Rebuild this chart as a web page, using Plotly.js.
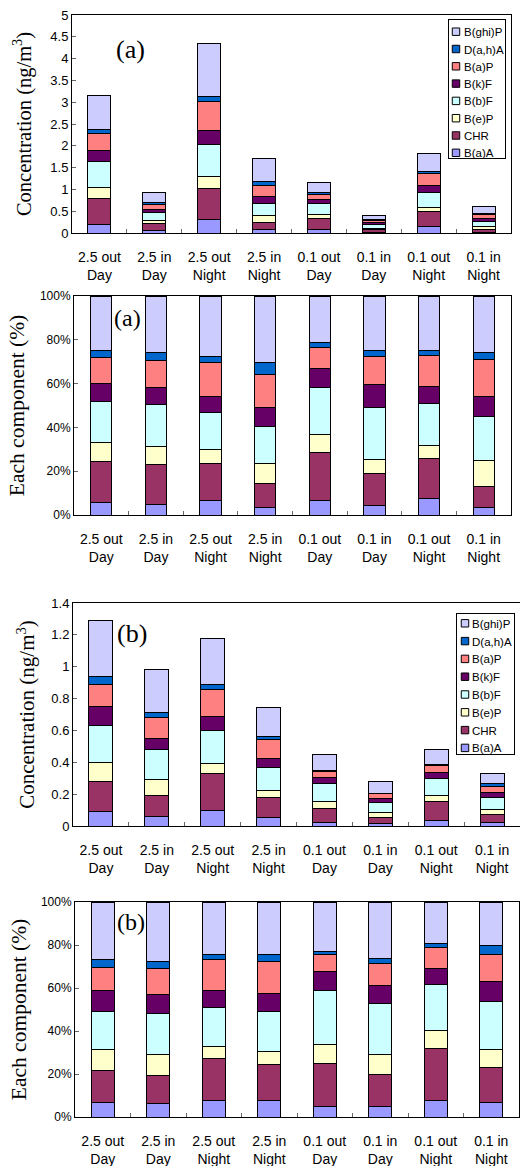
<!DOCTYPE html>
<html>
<head>
<meta charset="utf-8">
<script src="https://cdn.plot.ly/plotly-3.0.1.min.js"></script>
<style>html,body{margin:0;padding:0;background:#fff;}#chart{width:520px;height:1166px;}</style>
</head>
<body>
<div id="chart"></div>
<script>
// Categories (x tick labels)
const categories = ['2.5 out<br>Day','2.5 in<br>Day','2.5 out<br>Night','2.5 in<br>Night','0.1 out<br>Day','0.1 in<br>Day','0.1 out<br>Night','0.1 in<br>Night'];
const compounds = ['B(a)A','CHR','B(e)P','B(b)F','B(k)F','B(a)P','D(a,h)A','B(ghi)P'];
const colors = ['#9999FF','#993366','#FFFFCC','#CCFFFF','#660066','#FF8080','#0066CC','#CCCCFF'];

// (a) concentrations, ng/m3
const BaA_a   = [0.19, 0.05, 0.30, 0.07, 0.07, 0.018, 0.14, 0.02];
const CHR_a   = [0.59, 0.16, 0.73, 0.18, 0.26, 0.058, 0.35, 0.06];
const BeP_a   = [0.27, 0.08, 0.27, 0.15, 0.10, 0.025, 0.10, 0.07];
const BbF_a   = [0.59, 0.17, 0.74, 0.28, 0.24, 0.095, 0.35, 0.12];
const BkF_a   = [0.26, 0.08, 0.30, 0.15, 0.10, 0.042, 0.16, 0.06];
const BaP_a   = [0.38, 0.11, 0.68, 0.26, 0.12, 0.052, 0.26, 0.10];
const DahA_a  = [0.09, 0.04, 0.12, 0.09, 0.03, 0.011, 0.04, 0.02];
const BghiP_a = [0.79, 0.23, 1.20, 0.52, 0.24, 0.099, 0.43, 0.16];

// (a) each component, %
const BaA_ap   = [5.8, 4.7, 6.4, 3.5, 6.4, 4.4, 7.6, 3.5];
const CHR_ap   = [18.7, 18.3, 17.3, 11.0, 22.1, 14.6, 18.4, 9.4];
const BeP_ap   = [8.5, 8.2, 6.1, 9.2, 8.3, 6.3, 5.8, 11.8];
const BbF_ap   = [18.7, 19.2, 17.1, 16.5, 21.2, 23.7, 19.0, 20.2];
const BkF_ap   = [8.3, 7.6, 7.1, 8.7, 8.7, 10.5, 8.1, 9.0];
const BaP_ap   = [12.0, 12.5, 15.6, 15.2, 9.7, 13.1, 14.0, 17.3];
const DahA_ap  = [2.9, 3.6, 2.7, 5.5, 2.4, 2.7, 2.4, 2.9];
const BghiP_ap = [25.1, 25.9, 27.7, 30.4, 21.2, 24.7, 24.7, 25.9];

// (b) concentrations, ng/m3
const BaA_b   = [0.088, 0.06, 0.10, 0.055, 0.022, 0.013, 0.037, 0.022];
const CHR_b   = [0.192, 0.13, 0.23, 0.125, 0.09, 0.042, 0.116, 0.053];
const BeP_b   = [0.12, 0.10, 0.06, 0.045, 0.04, 0.027, 0.041, 0.029];
const BbF_b   = [0.23, 0.19, 0.21, 0.14, 0.115, 0.066, 0.104, 0.074];
const BkF_b   = [0.12, 0.07, 0.09, 0.06, 0.04, 0.024, 0.036, 0.031];
const BaP_b   = [0.14, 0.13, 0.17, 0.115, 0.035, 0.029, 0.046, 0.042];
const DahA_b  = [0.05, 0.03, 0.03, 0.02, 0.007, 0.006, 0.008, 0.013];
const BghiP_b = [0.35, 0.27, 0.29, 0.185, 0.10, 0.074, 0.094, 0.067];

// (b) each component, %
const BaA_bp   = [6.8, 6.2, 7.9, 7.5, 5.0, 4.7, 7.6, 6.8];
const CHR_bp   = [14.9, 13.1, 19.3, 17.0, 19.7, 14.9, 24.1, 16.0];
const BeP_bp   = [9.5, 9.9, 5.7, 6.1, 9.2, 9.7, 8.5, 8.7];
const BbF_bp   = [17.7, 18.9, 18.2, 18.3, 25.1, 23.3, 21.6, 22.4];
const BkF_bp   = [10.0, 8.7, 7.8, 8.4, 8.5, 8.7, 7.5, 9.3];
const BaP_bp   = [10.8, 12.5, 14.5, 15.2, 8.1, 10.3, 9.7, 12.6];
const DahA_bp  = [3.7, 2.9, 2.4, 3.0, 1.4, 2.0, 1.6, 3.9];
const BghiP_bp = [26.6, 27.8, 24.2, 24.5, 23.0, 26.4, 19.4, 20.3];

const panels = [
  {series:[BaA_a,CHR_a,BeP_a,BbF_a,BkF_a,BaP_a,DahA_a,BghiP_a], xa:'x', ya:'y', w:0.42, legend:'legend', show:true},
  {series:[BaA_ap,CHR_ap,BeP_ap,BbF_ap,BkF_ap,BaP_ap,DahA_ap,BghiP_ap], xa:'x2', ya:'y2', w:0.39, legend:'legend', show:false},
  {series:[BaA_b,CHR_b,BeP_b,BbF_b,BkF_b,BaP_b,DahA_b,BghiP_b], xa:'x3', ya:'y3', w:0.43, legend:'legend2', show:true},
  {series:[BaA_bp,CHR_bp,BeP_bp,BbF_bp,BkF_bp,BaP_bp,DahA_bp,BghiP_bp], xa:'x4', ya:'y4', w:0.41, legend:'legend2', show:false}
];

const traces = [];
panels.forEach(p => {
  p.series.forEach((vals, i) => {
    traces.push({
      type:'bar', x:categories, y:vals, name:compounds[i],
      xaxis:p.xa, yaxis:p.ya, width:p.w,
      marker:{color:colors[i], line:{color:'#000', width:1}},
      showlegend:p.show, legend:p.legend, hoverinfo:'skip'
    });
  });
});

const L = 72, PW = 448, H = 1166;
const px = v => (v - L) / PW;
const py = v => (H - v) / H;
const sans = 'Liberation Sans, Arial, sans-serif';
const serif = 'Liberation Serif, Times New Roman, serif';

function xax(l, r, anchor) {
  return {domain:[px(l), px(r)], anchor:anchor, type:'category', showline:true, linecolor:'#000', linewidth:1, mirror:true,
    ticks:'inside', tickson:'boundaries', ticklen:4, tickcolor:'#666', ticklabelstandoff:11, tickangle:0,
    tickfont:{family:sans, size:14, color:'#000'}, showgrid:false, zeroline:false, fixedrange:true, automargin:false};
}
function yax(t, b, anchor, range, dtick, suffix, title, tsize, standoff) {
  return {domain:[py(b), py(t)], anchor:anchor, range:range, dtick:dtick, ticksuffix:suffix, showline:true, linecolor:'#000', linewidth:1,
    mirror:true, ticks:'inside', ticklen:4, tickcolor:'#666', showgrid:false, zeroline:false,
    tickfont:{family:sans, size: suffix ? 12 : 13, color:'#000'},
    title:{text:title, font:{family:serif, size:tsize, color:'#000'}, standoff:standoff}, automargin:false, fixedrange:true};
}

const legendBase = {xanchor:'left', yanchor:'top', bgcolor:'#fff', bordercolor:'#000', borderwidth:1,
  font:{family:sans, size:11.5, color:'#000'}, traceorder:'reversed', itemwidth:30, tracegroupgap:0};

const layout = {
  width:520, height:1166, margin:{l:L, r:0, t:0, b:0},
  paper_bgcolor:'#fff', plot_bgcolor:'#fff', barmode:'stack', showlegend:true,
  xaxis: xax(72, 511, 'y'),
  yaxis: yax(15, 233, 'x', [0,5], 0.5, '', 'Concentration (ng/m<sup>3</sup>)', 20.5, 13),
  xaxis2: xax(74, 511, 'y2'),
  yaxis2: yax(296, 515, 'x2', [0,100], 20, '%', 'Each component (%)', 21.5, 9),
  xaxis3: xax(73, 520, 'y3'),
  yaxis3: yax(603, 826, 'x3', [0,1.4], 0.2, '', 'Concentration (ng/m<sup>3</sup>)', 21, 10),
  xaxis4: xax(75, 519, 'y4'),
  yaxis4: yax(902, 1117, 'x4', [0,100], 20, '%', 'Each component (%)', 21.5, 8),
  legend: Object.assign({}, legendBase, {x:px(420), y:py(19)}),
  legend2: Object.assign({}, legendBase, {x:px(420), y:py(613)}),
  annotations: [
    {text:'(a)', xref:'paper', yref:'paper', x:px(130), y:py(50), xanchor:'center', yanchor:'middle', showarrow:false, font:{family:serif, size:26, color:'#000'}},
    {text:'(a)', xref:'paper', yref:'paper', x:px(127), y:py(318), xanchor:'center', yanchor:'middle', showarrow:false, font:{family:serif, size:24, color:'#000'}},
    {text:'(b)', xref:'paper', yref:'paper', x:px(132), y:py(633), xanchor:'center', yanchor:'middle', showarrow:false, font:{family:serif, size:26, color:'#000'}},
    {text:'(b)', xref:'paper', yref:'paper', x:px(131), y:py(922), xanchor:'center', yanchor:'middle', showarrow:false, font:{family:serif, size:24, color:'#000'}}
  ]
};

function ty(el) {
  const m = /translate\(\s*([-\d.e]+)[ ,]+([-\d.e]+)\s*\)/.exec(el.getAttribute('transform') || '');
  return m ? parseFloat(m[2]) : 0;
}
// Tighten the legend boxes to the compact look of the original
function compactLegend(cls, left, top, w, h, firstY, step, symX, textX) {
  const groups = document.querySelectorAll('.infolayer > g.' + cls);
  groups.forEach(g => {
    g.setAttribute('transform', 'translate(' + left + ',' + top + ')');
    const bg = g.querySelector('rect.bg');
    if (bg) { bg.setAttribute('x', 0.5); bg.setAttribute('y', 0.5); bg.setAttribute('width', w - 1); bg.setAttribute('height', h - 1); }
    g.querySelectorAll('g.scrollbox').forEach(sb => { sb.setAttribute('transform', 'translate(0,0)'); sb.removeAttribute('clip-path'); });
    const items = Array.from(g.querySelectorAll('g.traces'));
    items.sort((a, b) => ty(a) - ty(b));
    items.forEach((it, k) => {
      it.setAttribute('transform', 'translate(0,' + (firstY + k * step) + ')');
      it.querySelectorAll('text').forEach(t => t.setAttribute('x', textX));
      it.querySelectorAll('.legendpoints path').forEach(p => {
        p.setAttribute('transform', 'translate(' + symX + ',0) scale(0.62)');
        p.style.vectorEffect = 'non-scaling-stroke';
      });
    });
  });
}
function compactAll() {
  compactLegend('legend', 448, 19, 58, 140, 12.7, 17.3, 8, 16);
  compactLegend('legend2', 456, 613, 59, 142, 10.3, 17.8, 9, 16);
}

const gd = document.getElementById('chart');
Plotly.newPlot(gd, traces, layout, {staticPlot:true, displayModeBar:false}).then(() => {
  compactAll();
  gd.on('plotly_afterplot', compactAll);
  setTimeout(compactAll, 50);
  setTimeout(compactAll, 300);
});
</script>
</body>
</html>
